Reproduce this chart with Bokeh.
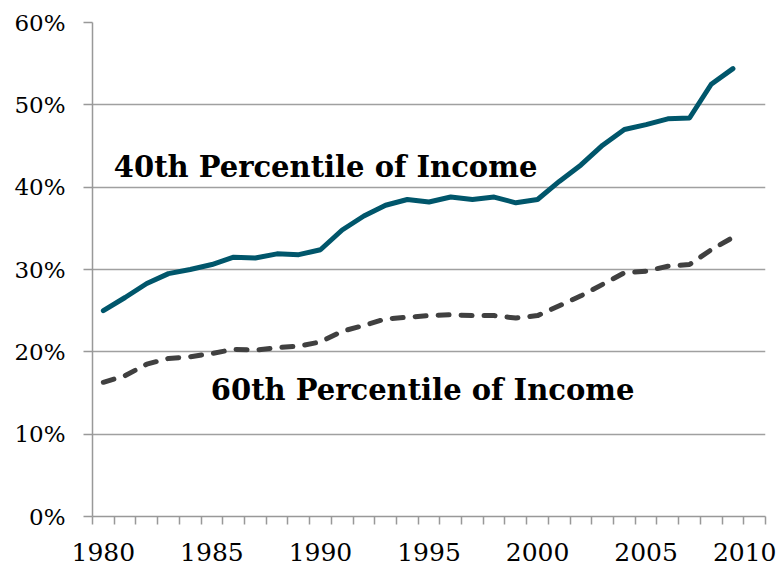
from bokeh.plotting import figure
from bokeh.models import Range1d, FixedTicker, PrintfTickFormatter, Label, ColumnDataSource
from bokeh.embed import file_html
from bokeh.resources import INLINE

years = list(range(1980, 2010))
p40 = [25.0, 26.6, 28.3, 29.5, 30.0, 30.6, 31.5, 31.4, 31.9, 31.8,
       32.4, 34.8, 36.5, 37.8, 38.5, 38.2, 38.8, 38.5, 38.8, 38.1,
       38.5, 40.7, 42.7, 45.1, 47.0, 47.6, 48.3, 48.4, 52.5, 54.4]
p60 = [16.3, 17.1, 18.5, 19.2, 19.4, 19.8, 20.3, 20.2, 20.5, 20.7,
       21.2, 22.5, 23.2, 24.0, 24.2, 24.4, 24.5, 24.4, 24.4, 24.1,
       24.4, 25.6, 26.8, 28.2, 29.6, 29.8, 30.4, 30.6, 32.4, 33.9]
x_labels = [1980, 1985, 1990, 1995, 2000, 2005, 2010]
y_ticks = [0, 10, 20, 30, 40, 50, 60]
label40 = "40th Percentile of Income"
label60 = "60th Percentile of Income"

FONT = "DejaVu Serif"

src = ColumnDataSource(dict(year=years, p40=p40, p60=p60))

p = figure(width=776, height=571, output_backend="svg", toolbar_location=None,
           x_range=Range1d(1979.5, 2010.5), y_range=Range1d(0, 60),
           min_border_left=92, min_border_right=11, min_border_top=22, min_border_bottom=55)
p.outline_line_color = None
p.background_fill_color = "white"
p.border_fill_color = "white"

# x axis
xt = FixedTicker(ticks=x_labels, minor_ticks=[y - 0.5 for y in range(1980, 2012)])
p.xaxis.ticker = xt
p.xaxis.major_tick_line_color = None
p.xaxis.major_tick_out = 8
p.xaxis.major_tick_in = 0
p.xaxis.minor_tick_out = 8
p.xaxis.minor_tick_in = 0
p.xaxis.minor_tick_line_color = "#999999"
p.xaxis.minor_tick_line_width = 1.5
p.xaxis.axis_line_color = "#999999"
p.xaxis.axis_line_width = 1.5
p.xaxis.major_label_text_font = FONT
p.xaxis.major_label_text_font_size = "25px"
p.xaxis.major_label_text_color = "black"
p.xaxis.major_label_standoff = 18

# y axis
p.yaxis.ticker = FixedTicker(ticks=y_ticks)
p.yaxis.formatter = PrintfTickFormatter(format="%d%%")
p.yaxis.major_tick_out = 9
p.yaxis.major_tick_in = 0
p.yaxis.minor_tick_line_color = None
p.yaxis.major_tick_line_color = "#999999"
p.yaxis.major_tick_line_width = 1.5
p.yaxis.axis_line_color = "#999999"
p.yaxis.axis_line_width = 1.5
p.yaxis.major_label_text_font = FONT
p.yaxis.major_label_text_font_size = "23px"
p.yaxis.major_label_text_color = "black"
p.yaxis.major_label_standoff = 18

p.xgrid.grid_line_color = None
p.ygrid.ticker = FixedTicker(ticks=y_ticks)
p.ygrid.grid_line_color = "#a0a0a0"
p.ygrid.grid_line_width = 1.5

p.line("year", "p40", source=src, line_color="#00566B", line_width=5,
       line_cap="round", line_join="round")
p.line("year", "p60", source=src, line_color="#404040", line_width=5,
       line_cap="round", line_join="round", line_dash="11 12")

p.add_layout(Label(x=1980.48, y=42.5, text=label40, text_font=FONT, text_font_style="bold",
                   text_font_size="29px", text_color="black", text_baseline="alphabetic"))
p.add_layout(Label(x=1984.95, y=15.4, text=label60, text_font=FONT, text_font_style="bold",
                   text_font_size="29px", text_color="black", text_baseline="alphabetic"))

open("out.html", "w").write(file_html(p, INLINE))
